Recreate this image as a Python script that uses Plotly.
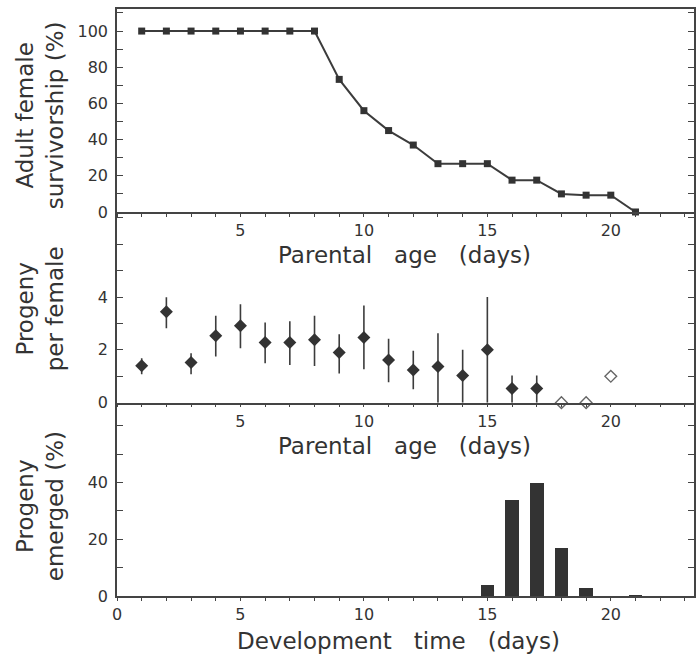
import plotly.graph_objects as go

# ---------------- data ----------------
surv_days = list(range(1, 22))
surv_pct = [100, 100, 100, 100, 100, 100, 100, 100, 73.3, 56, 45, 37, 26.7, 26.7, 26.7,
            17.6, 17.6, 10, 9.3, 9.3, 0]

prog_days = list(range(1, 18))
prog_mean = [1.40, 3.44, 1.52, 2.53, 2.91, 2.28, 2.28, 2.38, 1.90, 2.47, 1.62, 1.24, 1.37,
             1.03, 2.00, 0.54, 0.54]
prog_err_up = [0.28, 0.55, 0.35, 0.76, 0.82, 0.76, 0.80, 0.91, 0.69, 1.21, 0.80, 0.73, 1.26,
               0.97, 2.00, 0.49, 0.49]
prog_err_dn = [0.32, 0.62, 0.44, 0.78, 0.85, 0.79, 0.85, 0.99, 0.79, 1.20, 0.85, 0.73, 1.37,
               1.03, 2.00, 0.54, 0.54]

open_days = [18, 19, 20]
open_vals = [0, 0, 1.0]

dev_days = [15, 16, 17, 18, 19, 21]
dev_pct = [4, 34, 40, 17, 3, 0.5]

x_major = [5, 10, 15, 20]

# ---------------- styling ----------------
INK = "#333333"
AX = "#444444"
FONT = "DejaVu Sans"
TICK_FS = 16
TITLE_FS = 23
SP = "\u00a0\u00a0 "

fig = go.Figure()

fig.add_trace(go.Scatter(
    x=surv_days, y=surv_pct, mode="lines+markers",
    line=dict(color="#3c3c3c", width=2),
    marker=dict(symbol="square", size=7, color=INK),
    xaxis="x", yaxis="y", showlegend=False, cliponaxis=False))

fig.add_trace(go.Scatter(
    x=prog_days, y=prog_mean, mode="markers",
    marker=dict(symbol="diamond", size=10, color=INK),
    error_y=dict(type="data", array=prog_err_up, arrayminus=prog_err_dn,
                 color="#3c3c3c", thickness=1.6, width=0),
    xaxis="x2", yaxis="y2", showlegend=False, cliponaxis=False))

fig.add_trace(go.Scatter(
    x=open_days, y=open_vals, mode="markers",
    marker=dict(symbol="diamond-open", size=9, color="#666666", line=dict(width=1.4)),
    xaxis="x2", yaxis="y2", showlegend=False, cliponaxis=False))

fig.add_trace(go.Bar(
    x=dev_days, y=dev_pct, width=0.55,
    marker=dict(color=INK, line=dict(width=0)),
    xaxis="x3", yaxis="y3", showlegend=False))

XR = [0, 23.37]
all_ticks = list(range(0, 24))


def xax(domain_anchor, show_zero, mirror=False):
    vals = all_ticks
    txt = [str(v) if (v in x_major or (show_zero and v == 0)) else "" for v in vals]
    return dict(range=XR, domain=[0, 1], anchor=domain_anchor, tickmode="array",
                tickvals=vals, ticktext=txt, ticks="outside", ticklen=3, tickwidth=1.3,
                tickcolor=AX, showline=True, linecolor=AX, linewidth=1.5,
                mirror=mirror, showgrid=False, zeroline=False,
                tickfont=dict(family=FONT, size=TICK_FS, color=INK),
                ticklabelstandoff=0, fixedrange=True)


def yax(domain, rng, vals, labels, anchor):
    txt = [str(v) if v in labels else "" for v in vals]
    return dict(range=rng, domain=domain, anchor=anchor, tickmode="array",
                tickvals=vals, ticktext=txt, ticks="inside", ticklen=6, tickwidth=1.3,
                tickcolor=AX, showline=True, linecolor=AX, linewidth=1.5,
                mirror="ticks", showgrid=False, zeroline=False,
                tickfont=dict(family=FONT, size=TICK_FS, color=INK),
                ticklabelstandoff=4, fixedrange=True)


D_BOT = [0, 0.3293]
D_MID = [0.3293, 0.6542]
D_TOP = [0.6542, 1]

fig.update_layout(
    width=697, height=655,
    margin=dict(l=117, r=1, t=9, b=59),
    paper_bgcolor="white", plot_bgcolor="white",
    bargap=0,
    xaxis=xax("y", False, mirror=True),
    xaxis2=xax("y2", False),
    xaxis3=xax("y3", True),
    yaxis=yax(D_TOP, [0, 112.2], list(range(0, 111, 10)), [0, 20, 40, 60, 80, 100], "x"),
    yaxis2=yax(D_MID, [0, 7.22], list(range(0, 8)), [0, 2, 4], "x2"),
    yaxis3=yax(D_BOT, [0, 68.1], list(range(0, 61, 10)), [0, 20, 40], "x3"),
)


def px_to_paper_y(py):
    return (596 - py) / 587.0


def px_to_paper_x(px):
    return (px - 117) / 579.0


anns = [
    dict(text="Parental" + SP + "age" + SP + "(days)", x=px_to_paper_x(405), y=px_to_paper_y(255)),
    dict(text="Parental" + SP + "age" + SP + "(days)", x=px_to_paper_x(405), y=px_to_paper_y(446)),
    dict(text="Development" + SP + "time" + SP + "(days)", x=px_to_paper_x(399), y=px_to_paper_y(641)),
]
for a in anns:
    fig.add_annotation(text=a["text"], x=a["x"], y=a["y"], xref="paper", yref="paper",
                       showarrow=False, xanchor="center", yanchor="middle",
                       font=dict(family=FONT, size=TITLE_FS, color=INK))

ytitles = [
    ("Adult female<br>survivorship (%)", 115),
    ("Progeny<br>per female", 309),
    ("Progeny<br>emerged (%)", 506),
]
for t, py in ytitles:
    fig.add_annotation(text=t, x=px_to_paper_x(40), y=px_to_paper_y(py), xref="paper",
                       yref="paper", showarrow=False, textangle=-90,
                       xanchor="center", yanchor="middle",
                       font=dict(family=FONT, size=TITLE_FS, color=INK))

fig.write_html("out.html")
